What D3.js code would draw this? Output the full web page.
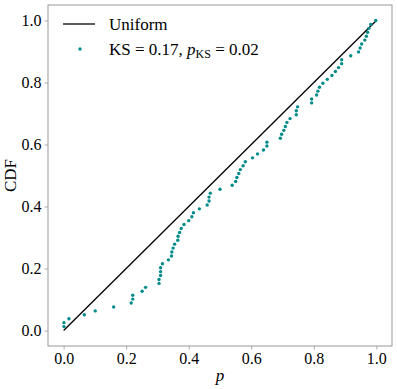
<!DOCTYPE html>
<html>
<head>
<meta charset="utf-8">
<script src="https://cdn.jsdelivr.net/npm/d3@7"></script>
<style>
  body { margin: 0; background: #fff; }
  text { font-family: "Liberation Serif", "Times New Roman", "DejaVu Serif", serif; }
</style>
</head>
<body>
<div id="chart"></div>
<script>
// sorted p-values
const pValues = [
  0.001, 0.001, 0.017, 0.066, 0.101, 0.160, 0.216, 0.221, 0.221, 0.251,
  0.262, 0.305, 0.305, 0.310, 0.310, 0.310, 0.316, 0.335, 0.345, 0.346,
  0.350, 0.355, 0.365, 0.366, 0.371, 0.376, 0.385, 0.400, 0.410, 0.415,
  0.434, 0.459, 0.465, 0.465, 0.469, 0.500, 0.539, 0.550, 0.554, 0.560,
  0.565, 0.574, 0.581, 0.604, 0.620, 0.639, 0.650, 0.650, 0.693, 0.697,
  0.704, 0.709, 0.714, 0.724, 0.744, 0.744, 0.748, 0.793, 0.793, 0.809,
  0.813, 0.818, 0.829, 0.843, 0.858, 0.869, 0.879, 0.889, 0.889, 0.918,
  0.943, 0.948, 0.953, 0.963, 0.968, 0.972, 0.976, 0.982, 0.998
];
const uniformX = [0, 1];
const uniformY = [0, 1];
const tickValues = [0, 0.2, 0.4, 0.6, 0.8, 1.0];
const ksStat = "0.17";
const ksP = "0.02";

const W = 397, H = 389;
const margin = { top: 5, right: 5, bottom: 43, left: 48 };
const width = W - margin.left - margin.right,
  height = H - margin.top - margin.bottom;

const svg = d3.select("#chart").append("svg")
  .attr("width", W).attr("height", H);
const g = svg.append("g")
  .attr("transform", `translate(${margin.left},${margin.top})`);

const x = d3.scaleLinear().domain([-0.05, 1.05]).range([0, width]);
const y = d3.scaleLinear().domain([-0.05, 1.05]).range([height, 0]);

// empirical CDF of the p-values
const n = pValues.length;
const points = pValues.map((p, i) => ({ p: p, cdf: (i + 1) / n }));

// axes
const fmt = d3.format(".1f");
const xAxis = g.append("g")
  .attr("transform", `translate(0,${height})`)
  .call(d3.axisBottom(x).tickValues(tickValues).tickFormat(fmt).tickSize(3.5).tickPadding(3));
const yAxis = g.append("g")
  .call(d3.axisLeft(y).tickValues(tickValues).tickFormat(fmt).tickSize(3.5).tickPadding(3));
[xAxis, yAxis].forEach((a) => {
  a.attr("font-family", "Liberation Serif, serif");
  a.select(".domain").remove();
  a.selectAll("line").attr("stroke", "#999").attr("stroke-width", 0.8);
  a.selectAll("text")
    .style("font-size", "16px").attr("fill", "#000");
});

// uniform line
g.append("path")
  .datum(uniformX.map((v, i) => [v, uniformY[i]]))
  .attr("fill", "none").attr("stroke", "#000").attr("stroke-width", 1.3)
  .attr("d", d3.line().x((d) => x(d[0])).y((d) => y(d[1])));

// ECDF points
g.selectAll("circle.pt")
  .data(points).enter().append("circle")
  .attr("class", "pt")
  .attr("cx", (d) => x(d.p)).attr("cy", (d) => y(d.cdf))
  .attr("r", 1.7).attr("fill", "#008b8b");

// frame
g.append("rect")
  .attr("width", width).attr("height", height)
  .attr("fill", "none").attr("stroke", "#999").attr("stroke-width", 1);

// axis labels
g.append("text")
  .attr("x", width / 2).attr("y", height + 35)
  .attr("text-anchor", "middle")
  .style("font-size", "17px").style("font-style", "italic")
  .text("p");
g.append("text")
  .attr("transform", "rotate(-90)")
  .attr("x", -height / 2).attr("y", -margin.left + 16)
  .attr("text-anchor", "middle")
  .style("font-size", "17px")
  .text("CDF");

// legend
const leg = g.append("g").attr("transform", "translate(15,19)");
leg.append("line")
  .attr("x1", 0).attr("x2", 32).attr("y1", 0).attr("y2", 0)
  .attr("stroke", "#000").attr("stroke-width", 1.3);
leg.append("text").attr("x", 46).attr("y", 6)
  .style("font-size", "17px").text("Uniform");
leg.append("circle").attr("cx", 17).attr("cy", 25).attr("r", 1.7)
  .attr("fill", "#008b8b");
const t2 = leg.append("text").attr("x", 46).attr("y", 31)
  .style("font-size", "17px");
t2.append("tspan").text(`KS = ${ksStat}, `);
t2.append("tspan").style("font-style", "italic").text("p");
t2.append("tspan").attr("dy", 3).style("font-size", "12px").text("KS");
t2.append("tspan").attr("dy", -3).text(` = ${ksP}`);
</script>
</body>
</html>
